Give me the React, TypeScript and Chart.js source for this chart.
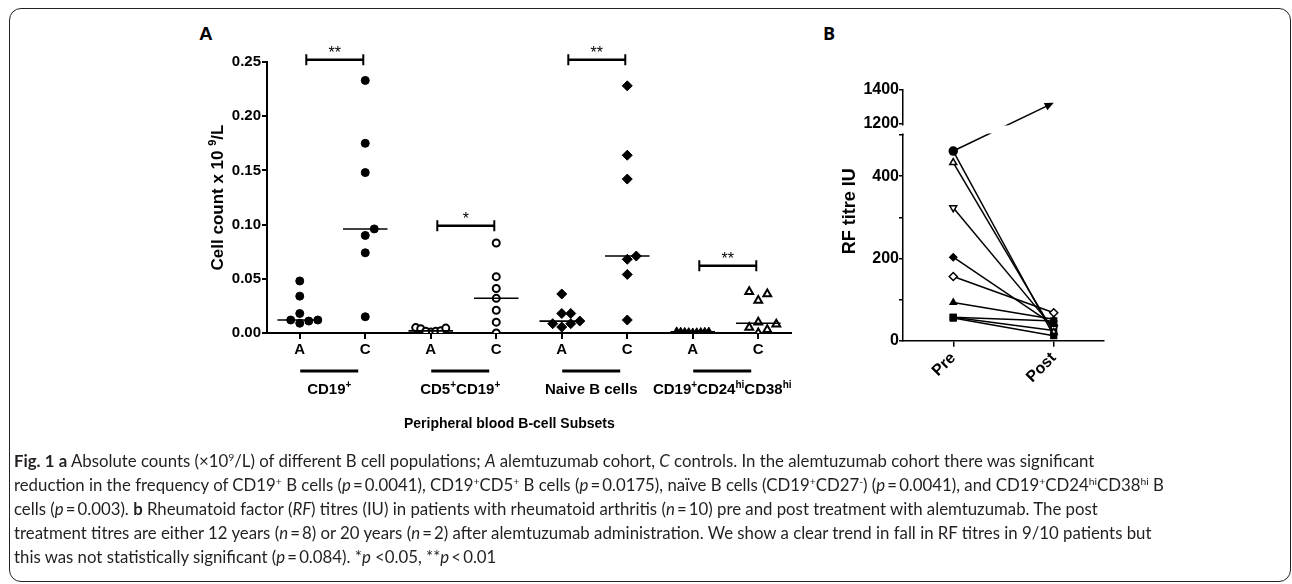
import React, { useEffect, useRef } from "react";
import { Chart, registerables } from "chart.js";

Chart.register(...registerables);

const FONT = "'Liberation Sans', Arial, Helvetica, sans-serif";

// ---------------- Panel A data ----------------
const columnLabels = ["A", "C", "A", "C", "A", "C", "A", "C"];
const subsetLabels = ["CD19{+}", "CD5{+}CD19{+}", "Naive B cells", "CD19{+}CD24{hi}CD38{hi}"];
const cd19A = [0.048, 0.034, 0.018, 0.012, 0.009, 0.011, 0.012];
const cd19C = [0.233, 0.175, 0.148, 0.096, 0.09, 0.074, 0.015];
const cd5A = [0.005, 0.001, 0.004, 0.0015, 0.002, 0.0015, 0.0045];
const cd5C = [0.083, 0.052, 0.041, 0.032, 0.021, 0.01, 0.0];
const naiveA = [0.036, 0.018, 0.018, 0.0086, 0.0055, 0.011, 0.0086];
const naiveC = [0.228, 0.164, 0.142, 0.071, 0.068, 0.054, 0.012];
const cd24A = [0.0012, 0.0008, 0.0015, 0.0005, 0.001, 0.0013, 0.0007, 0.0011, 0.0009];
const cd24C = [0.038, 0.036, 0.03, 0.01, 0.008, 0.005, 0.003, 0.0];
const sigStars = ["**", "*", "**", "**"];
const sigHeights = [0.252, 0.099, 0.252, 0.062];
const yTicksA = [0, 0.05, 0.1, 0.15, 0.2, 0.25];
const yTitleA = "Cell count x 10 {9}/L";
const xTitleA = "Peripheral blood B-cell Subsets";

// ---------------- Panel B data ----------------
const timepoints = ["Pre", "Post"];
const rfPre = [461, 461, 433, 323, 203, 156, 93, 57, 57, 55];
const rfPost = [1325, 12, 20, 30, 38, 68, 52, 48, 25, 12];
const lowTicksB = [0, 100, 200, 300, 400, 500];
const labeledLowTicksB = [0, 200, 400];
const highTicksB = [1200, 1400];
const yTitleB = "RF titre IU";

// ---------------- styles ----------------
const columns = [cd19A, cd19C, cd5A, cd5C, naiveA, naiveC, cd24A, cd24C];
const columnMarkers = [
  { style: "circle", filled: true, r: 4, spread: 9 },
  { style: "circle", filled: true, r: 4, spread: 9 },
  { style: "circle", filled: false, r: 3.5, spread: 5 },
  { style: "circle", filled: false, r: 3.5, spread: 9 },
  { style: "rectRot", filled: true, r: 5, spread: 9 },
  { style: "rectRot", filled: true, r: 5, spread: 9 },
  { style: "triangle", filled: true, r: 4.5, spread: 4 },
  { style: "triangle", filled: false, r: 4.5, spread: 9 },
];
const rfMarkers = [
  { style: "circle", filled: true, r: 4, rot: 0 },
  { style: "rect", filled: true, r: 3.5, rot: 0 },
  { style: "triangle", filled: false, r: 4, rot: 0 },
  { style: "triangle", filled: false, r: 4, rot: 180 },
  { style: "rectRot", filled: true, r: 3.5, rot: 0 },
  { style: "rectRot", filled: false, r: 4, rot: 0 },
  { style: "triangle", filled: true, r: 3.5, rot: 0 },
  { style: "rect", filled: true, r: 4, rot: 0 },
  { style: "rect", filled: true, r: 4, rot: 0 },
  { style: "rect", filled: true, r: 4, rot: 0 },
];
const PX_PER_X = 65.3;
const PX_PER_Y = 1084;

function medianOf(vals: number[]) {
  const s = [...vals].sort((a, b) => a - b);
  const n = s.length;
  return n % 2 ? s[(n - 1) / 2] : (s[n / 2 - 1] + s[n / 2]) / 2;
}

function swarm(values: number[], center: number, spread: number) {
  const order = values.map((_, i) => i).sort((a, b) => values[a] - values[b]);
  const placed: { x: number; y: number }[] = [];
  const out: any[] = new Array(values.length);
  for (const i of order) {
    const ypx = values[i] * PX_PER_Y;
    for (let k = 0; k < 40; k++) {
      const off = k === 0 ? 0 : (k % 2 === 1 ? 1 : -1) * Math.ceil(k / 2) * spread;
      const ok = placed.every((p) => Math.hypot(p.x - off, p.y - ypx) >= spread - 0.01);
      if (ok) {
        placed.push({ x: off, y: ypx });
        out[i] = { x: center + off / PX_PER_X, y: values[i] };
        break;
      }
    }
  }
  return out;
}

function parseRich(s: string) {
  const out: { t: string; sup: boolean }[] = [];
  const re = /\{([^}]*)\}/g;
  let last = 0;
  let m: any;
  while ((m = re.exec(s))) {
    if (m.index > last) out.push({ t: s.slice(last, m.index), sup: false });
    out.push({ t: m[1], sup: true });
    last = re.lastIndex;
  }
  if (last < s.length) out.push({ t: s.slice(last), sup: false });
  return out;
}

function drawRich(ctx: CanvasRenderingContext2D, s: string, cx: number, baseline: number, size: number) {
  const segs = parseRich(s);
  const supSize = Math.round(size * 0.65);
  const widths = segs.map((sg) => {
    ctx.font = `bold ${sg.sup ? supSize : size}px ${FONT}`;
    return ctx.measureText(sg.t).width;
  });
  const total = widths.reduce((a, b) => a + b, 0);
  let x = cx - total / 2;
  ctx.textAlign = "left";
  ctx.textBaseline = "alphabetic";
  segs.forEach((sg, i) => {
    ctx.font = `bold ${sg.sup ? supSize : size}px ${FONT}`;
    ctx.fillText(sg.t, x, sg.sup ? baseline - size * 0.4 : baseline);
    x += widths[i];
  });
}

const panelAPlugin = {
  id: "panelAExtras",
  afterDraw(chart: any) {
    const { ctx, chartArea } = chart;
    const xs = chart.scales.x;
    const ys = chart.scales.y;
    ctx.save();
    ctx.strokeStyle = "#000";
    ctx.fillStyle = "#000";
    sigStars.forEach((s, g) => {
      const x1 = xs.getPixelForValue(2 * g + 0.1);
      const x2 = xs.getPixelForValue(2 * g + 0.97);
      const y = ys.getPixelForValue(sigHeights[g]);
      ctx.lineWidth = 2.5;
      ctx.beginPath();
      ctx.moveTo(x1, y);
      ctx.lineTo(x2, y);
      ctx.stroke();
      ctx.lineWidth = 2;
      ctx.beginPath();
      ctx.moveTo(x1, y - 5.5);
      ctx.lineTo(x1, y + 5.5);
      ctx.moveTo(x2, y - 5.5);
      ctx.lineTo(x2, y + 5.5);
      ctx.stroke();
      ctx.font = `16px ${FONT}`;
      ctx.textAlign = "center";
      ctx.textBaseline = "alphabetic";
      ctx.fillText(s, (x1 + x2) / 2, y - 1.5);
    });
    subsetLabels.forEach((lab, g) => {
      const cx = xs.getPixelForValue(2 * g + 0.45);
      const y = chartArea.bottom + 38;
      ctx.lineWidth = 3;
      ctx.beginPath();
      ctx.moveTo(cx - 29, y);
      ctx.lineTo(cx + 29, y);
      ctx.stroke();
      drawRich(ctx, lab, cx, chartArea.bottom + 61, 15);
    });
    drawRich(ctx, xTitleA, xs.getPixelForValue(3.2), chartArea.bottom + 95, 14);
    ctx.translate(chartArea.left - 44, (chartArea.top + chartArea.bottom) / 2);
    ctx.rotate(-Math.PI / 2);
    drawRich(ctx, yTitleA, 0, 0, 17);
    ctx.restore();
  },
};

const panelBPlugin = {
  id: "panelBExtras",
  afterDatasetsDraw(chart: any) {
    const ctx = chart.ctx;
    const p0 = chart.getDatasetMeta(0).data[0];
    const p1 = chart.getDatasetMeta(1).data[1];
    const yHigh = chart.scales.yHigh;
    const yLow = chart.scales.yLow;
    const ang = Math.atan2(p1.y - p0.y, p1.x - p0.x);
    const head = 9;
    ctx.save();
    ctx.strokeStyle = "#000";
    ctx.lineWidth = 1.5;
    ctx.beginPath();
    ctx.moveTo(p0.x, p0.y);
    ctx.lineTo(p1.x - head * 0.8 * Math.cos(ang), p1.y - head * 0.8 * Math.sin(ang));
    ctx.stroke();
    const gapTop = yHigh.getPixelForValue(highTicksB[0]) + 1.5;
    const gapBottom = yLow.top - 1.5;
    ctx.fillStyle = "#fff";
    ctx.fillRect(chart.chartArea.left - 3, gapTop, chart.chartArea.right - chart.chartArea.left + 6, gapBottom - gapTop);
    ctx.fillStyle = "#000";
    ctx.beginPath();
    ctx.moveTo(p1.x, p1.y);
    ctx.lineTo(p1.x - head * Math.cos(ang) + 4 * Math.sin(ang), p1.y - head * Math.sin(ang) - 4 * Math.cos(ang));
    ctx.lineTo(p1.x - head * Math.cos(ang) - 4 * Math.sin(ang), p1.y - head * Math.sin(ang) + 4 * Math.cos(ang));
    ctx.closePath();
    ctx.fill();
    ctx.restore();
  },
  afterDraw(chart: any) {
    const { ctx, chartArea } = chart;
    ctx.save();
    ctx.fillStyle = "#000";
    ctx.translate(chartArea.left - 48, (chartArea.top + chartArea.bottom) / 2 - 4);
    ctx.rotate(-Math.PI / 2);
    drawRich(ctx, yTitleB, 0, 0, 18);
    ctx.restore();
  },
};

function configA(): any {
  const datasets: any[] = [];
  columns.forEach((vals, i) => {
    const m = medianOf(vals);
    datasets.push({
      type: "line",
      data: [
        { x: i - 0.34, y: m },
        { x: i + 0.34, y: m },
      ],
      borderColor: "#000",
      borderWidth: 1.6,
      pointRadius: 0,
      order: 0,
    });
  });
  columns.forEach((vals, i) => {
    const st = columnMarkers[i];
    datasets.push({
      type: "scatter",
      data: swarm(vals, i, st.spread),
      pointStyle: st.style,
      pointRadius: st.r,
      pointBackgroundColor: st.filled ? "#000" : "#fff",
      pointBorderColor: "#000",
      pointBorderWidth: st.filled ? 1 : 2,
      order: 1,
    });
  });
  const tickFont = { family: FONT, size: 15, weight: "bold" };
  return {
    type: "scatter",
    data: { datasets },
    options: {
      animation: false,
      responsive: false,
      events: [],
      layout: { padding: { top: 32, right: 19, left: 0, bottom: 0 } },
      plugins: { legend: { display: false }, tooltip: { enabled: false } },
      scales: {
        x: {
          type: "linear",
          min: -0.5,
          max: 7.5,
          afterBuildTicks: (s: any) => {
            s.ticks = columnLabels.map((_, i) => ({ value: i }));
          },
          afterFit: (s: any) => {
            s.height = 117;
          },
          ticks: {
            autoSkip: false,
            maxRotation: 0,
            callback: (_v: any, idx: number) => columnLabels[idx],
            font: tickFont,
            color: "#000",
            padding: 2,
          },
          grid: { drawOnChartArea: false, tickLength: 6, color: "#000", lineWidth: 2 },
          border: { color: "#000", width: 2 },
        },
        y: {
          type: "linear",
          min: 0,
          max: 0.25,
          afterBuildTicks: (s: any) => {
            s.ticks = yTicksA.map((v) => ({ value: v }));
          },
          afterFit: (s: any) => {
            s.width = 97;
          },
          ticks: {
            callback: (v: any) => Number(v).toFixed(2),
            font: tickFont,
            color: "#000",
            padding: 1,
          },
          grid: { drawOnChartArea: false, tickLength: 5, color: "#000", lineWidth: 2 },
          border: { color: "#000", width: 2 },
        },
      },
    },
    plugins: [panelAPlugin],
  };
}

function markerProps(m: any) {
  return {
    pointStyle: m.style,
    pointRadius: m.r,
    pointRotation: m.rot,
    pointBackgroundColor: m.filled ? "#000" : "#fff",
    pointBorderColor: "#000",
    pointBorderWidth: 1.5,
  };
}

function configB(): any {
  const datasets: any[] = [];
  datasets.push({
    type: "line",
    data: [rfPre[0], null],
    yAxisID: "yLow",
    showLine: false,
    ...markerProps(rfMarkers[0]),
  });
  datasets.push({
    type: "line",
    data: [null, rfPost[0]],
    yAxisID: "yHigh",
    showLine: false,
    pointRadius: 0,
  });
  for (let k = 1; k < rfPre.length; k++) {
    datasets.push({
      type: "line",
      data: [rfPre[k], rfPost[k]],
      yAxisID: "yLow",
      borderColor: "#000",
      borderWidth: 1.5,
      ...markerProps(rfMarkers[k]),
    });
  }
  const tickFont = { family: FONT, size: 16, weight: "bold" };
  const yCommon = {
    type: "linear",
    position: "left",
    stack: "rf",
    afterFit: (s: any) => {
      s.width = 73;
    },
    grid: { drawOnChartArea: false, tickLength: 4, color: "#000", lineWidth: 1.5 },
    border: { color: "#000", width: 1.5 },
  };
  return {
    type: "line",
    data: { labels: timepoints, datasets },
    options: {
      animation: false,
      responsive: false,
      events: [],
      layout: { padding: { top: 60, right: 26, left: 0, bottom: 0 } },
      plugins: { legend: { display: false }, tooltip: { enabled: false } },
      scales: {
        x: {
          type: "category",
          offset: true,
          afterFit: (s: any) => {
            s.height = 79.3;
          },
          ticks: { font: tickFont, color: "#000", minRotation: 45, maxRotation: 45, padding: 2 },
          grid: { drawOnChartArea: false, tickLength: 6, color: "#000", lineWidth: 1.5 },
          border: { color: "#000", width: 1.5 },
        },
        yLow: {
          ...yCommon,
          weight: 0,
          stackWeight: 205.7,
          min: 0,
          max: 500,
          afterBuildTicks: (s: any) => {
            s.ticks = lowTicksB.map((v) => ({ value: v }));
          },
          ticks: {
            font: tickFont,
            color: "#000",
            padding: 0,
            callback: (v: any) => (labeledLowTicksB.includes(Number(v)) ? String(v) : ""),
          },
        },
        yHigh: {
          ...yCommon,
          weight: 1,
          stackWeight: 45,
          min: 1135,
          max: 1400,
          afterBuildTicks: (s: any) => {
            s.ticks = highTicksB.map((v) => ({ value: v }));
          },
          ticks: { font: tickFont, color: "#000", padding: 0, callback: (v: any) => String(v) },
        },
      },
    },
    plugins: [panelBPlugin],
  };
}

const supStyle: any = { fontSize: "0.62em", verticalAlign: "0.55em", lineHeight: 0 };
const S = (t: string) => <span style={supStyle}>{t}</span>;
const I = (t: string) => <i>{t}</i>;
const eq = "\u2009=\u2009";

export default function App() {
  const refA = useRef<HTMLCanvasElement>(null);
  const refB = useRef<HTMLCanvasElement>(null);
  useEffect(() => {
    const a = new Chart(refA.current as HTMLCanvasElement, configA());
    const b = new Chart(refB.current as HTMLCanvasElement, configB());
    return () => {
      a.destroy();
      b.destroy();
    };
  }, []);
  const lineStyle: any = { whiteSpace: "nowrap", height: 24 };
  return (
    <div style={{ position: "absolute", left: 0, top: 0, width: 1292, height: 584, overflow: "hidden", background: "#fff" }}>
      <div
        style={{
          position: "absolute",
          left: 9,
          top: 8,
          width: 1282,
          height: 574,
          boxSizing: "border-box",
          border: "1.5px solid #222",
          borderRadius: 12,
        }}
      />
      <div style={{ position: "absolute", left: 199, top: 24, font: `bold 19px/19px ${FONT}`, color: "#000" }}>A</div>
      <div style={{ position: "absolute", left: 823, top: 24, font: `bold 18px/18px 'Open Sans', sans-serif`, color: "#000" }}>B</div>
      <canvas ref={refA} width={640} height={420} style={{ position: "absolute", left: 170, top: 30, width: 640, height: 420 }} />
      <canvas ref={refB} width={300} height={390} style={{ position: "absolute", left: 830, top: 30, width: 300, height: 390 }} />
      <div
        style={{
          position: "absolute",
          left: 14,
          top: 449,
          fontFamily: "Lato, 'Open Sans', sans-serif",
          fontSize: 16.8,
          lineHeight: "24px",
          color: "#231f20",
        }}
      >
        <div style={lineStyle}>
          <b>Fig. 1</b> <b>a</b> Absolute counts (×10{S("9")}/L) of different B cell populations; {I("A")} alemtuzumab cohort, {I("C")} controls. In the alemtuzumab cohort there was significant
        </div>
        <div style={lineStyle}>
          reduction in the frequency of CD19{S("+")} B cells ({I("p")}{eq}0.0041), CD19{S("+")}CD5{S("+")} B cells ({I("p")}{eq}0.0175), naïve B cells (CD19{S("+")}CD27{S("-")}) ({I("p")}{eq}0.0041), and CD19{S("+")}CD24{S("hi")}CD38{S("hi")} B
        </div>
        <div style={lineStyle}>
          cells ({I("p")}{eq}0.003). <b>b</b> Rheumatoid factor ({I("RF")}) titres (IU) in patients with rheumatoid arthritis ({I("n")}{eq}10) pre and post treatment with alemtuzumab. The post
        </div>
        <div style={lineStyle}>
          treatment titres are either 12 years ({I("n")}{eq}8) or 20 years ({I("n")}{eq}2) after alemtuzumab administration. We show a clear trend in fall in RF titres in 9/10 patients but
        </div>
        <div style={lineStyle}>
          this was not statistically significant ({I("p")}{eq}0.084). *{I("p")} &lt;0.05, **{I("p")}{"\u2009"}&lt;{"\u2009"}0.01
        </div>
      </div>
    </div>
  );
}
